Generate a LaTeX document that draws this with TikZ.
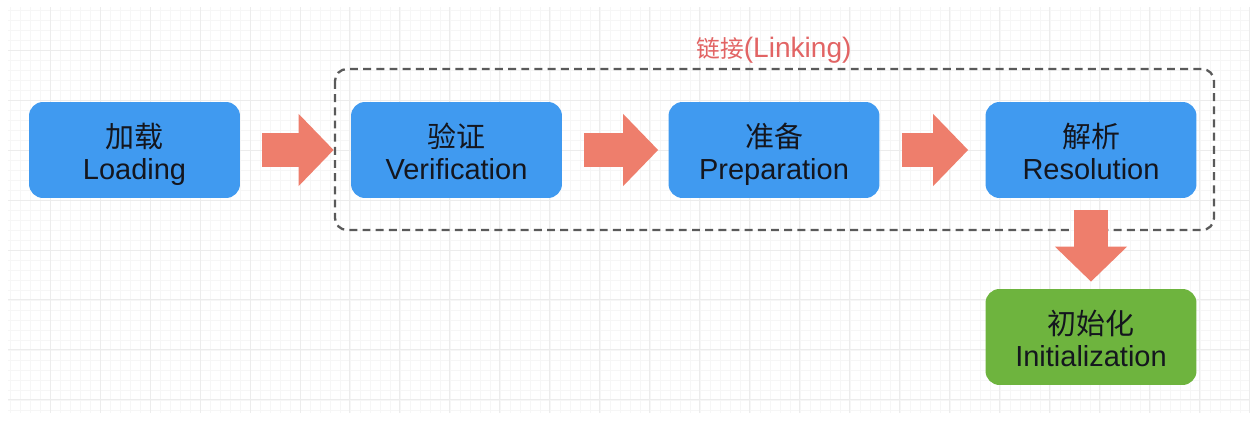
\documentclass[tikz,border=0pt]{standalone}
\usepackage{fontspec}
\setmainfont{Liberation Sans}
\newfontfamily\cjk{Noto Sans CJK SC}
\usepackage{xcolor}
\usetikzlibrary{arrows.meta,positioning,calc}
\definecolor{jblue}{RGB}{64,154,240}
\definecolor{jgreen}{RGB}{110,180,62}
\definecolor{jarrow}{RGB}{238,126,108}
\definecolor{jred}{RGB}{226,100,100}
\definecolor{jdash}{RGB}{90,90,90}
\definecolor{jtext}{RGB}{20,22,30}
% two-line stage label: Chinese over English, same baselines in every box
\newcommand{\stagelabel}[2]{\rule{0pt}{19.5pt}{\cjk #1}\\\rule[-4pt]{0pt}{4pt}#2}

\begin{document}
\begin{tikzpicture}[x=0.02cm,y=-0.02cm,
  stage/.style={fill=jblue,rounded corners=2.8mm,minimum width=4.22cm,minimum height=1.92cm,
    align=center,text=jtext,font=\fontsize{16.5}{18.5}\selectfont},
  initbox/.style={stage,fill=jgreen},
  blockarr/.style={line width=6.8mm,jarrow,-{Triangle[length=7mm,width=14mm]},
    shorten <=4.4mm,shorten >=3.4mm}]
\useasboundingbox (0,0) rectangle (1258,421);
% grid paper
\fill[white] (0,0) rectangle (1258,421);
\draw[gray!7,line width=0.3pt,step=2mm] (8,7) grid (1250,413);
\draw[gray!15,line width=0.5pt,step=1cm] (8,7) grid (1250,413);
% stages
\node[stage] (load)   at (134.5,150) {\stagelabel{加载}{Loading}};
\node[stage] (verify) at (456.5,150) {\stagelabel{验证}{Verification}};
\node[stage] (prep)   at (774,150)   {\stagelabel{准备}{Preparation}};
\node[stage] (resol)  at (1091,150)  {\stagelabel{解析}{Resolution}};
\node[initbox] (init) at (1091,337)  {\stagelabel{初始化}{Initialization}};
% linking frame
\draw[jdash,line width=1.3pt,dash pattern=on 4.5pt off 3pt,rounded corners=2.4mm]
  (335,69) rectangle (1214,230);
\node[text=jred,font=\fontsize{16}{18}\selectfont] (linking) at (774,50)
  {{\cjk\fontsize{13.5}{18}\selectfont 链接}(Linking)};
% arrows
\draw[blockarr] (load) -- (verify);
\draw[blockarr,shorten >=2mm] (verify) -- (prep);
\draw[blockarr] (prep) -- (resol);
\draw[blockarr,shorten <=2.4mm,shorten >=1.4mm] (resol) -- (init);
\end{tikzpicture}
\end{document}
